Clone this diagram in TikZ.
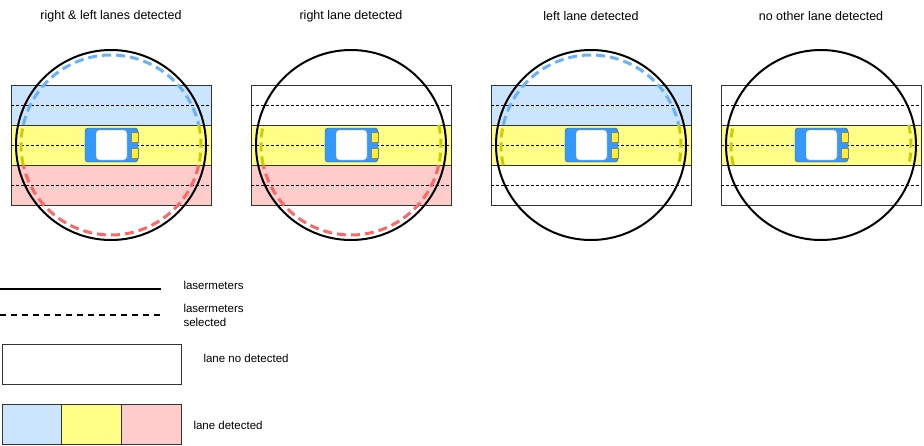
\documentclass[tikz,border=0pt]{standalone}
\usepackage{fontspec}
\setmainfont{Liberation Sans}
\begin{document}
\begin{tikzpicture}[x=1pt,y=-1pt,
  lane/.style={draw=black!80,line width=0.6pt},
  mid/.style={dashed,line width=0.6pt,dash pattern=on 3pt off 2pt},
  laser/.style={line width=2pt},
  det/.style={line width=3pt,dash pattern=on 9pt off 5pt},
  ttl/.style={font=\fontsize{12.5}{14}\selectfont},
  lg/.style={font=\fontsize{11.5}{14}\selectfont,anchor=west}]
\definecolor{lb}{HTML}{CCE5FF}\definecolor{ly}{HTML}{FFFF88}\definecolor{lr}{HTML}{FFCCCC}
\definecolor{db}{HTML}{66B2FF}\definecolor{dy}{HTML}{CCCC00}\definecolor{dr}{HTML}{FF6666}
\definecolor{car}{HTML}{3399FF}\definecolor{lt}{HTML}{FFEE33}
\useasboundingbox (0,0) rectangle (924,445);
\newcommand\lanepanel[6]{%
 \begin{scope}[xshift=#1]
  \fill[#2] (11,85) rectangle (211,125);
  \fill[ly] (11,125) rectangle (211,165);
  \fill[#3] (11,165) rectangle (211,205);
  \draw[lane] (11,85) rectangle (211,205);
  \draw[lane] (11,125) -- (211,125) (11,165) -- (211,165);
  \draw[mid] (11,105) -- (211,105) (11,145) -- (211,145) (11,185) -- (211,185);
  \draw[det,dy] (111,145) ++(-13:90) arc (-13:13:90);
  \draw[det,dy] (111,145) ++(167:90) arc (167:193:90);
  #5
  \draw[laser] (111,145) circle (95);
  \draw[fill=car,draw=black!70,rounded corners=3pt] (85,128) rectangle (138,162);
  \draw[fill=white,draw=black!50,rounded corners=3pt] (96,130) rectangle (127,160);
  \draw[fill=lt,draw=black!50,line width=0.3pt] (131,132) rectangle (138,142);
  \draw[fill=lt,draw=black!50,line width=0.3pt] (131,148) rectangle (138,158);
  \node[ttl] (t#6) at (111,16) {#4};
 \end{scope}}
\lanepanel{0}{lb}{lr}{right \& left lanes detected}{\draw[det,db] (111,145) ++(193:90) arc (193:347:90); \draw[det,dr] (111,145) ++(13:90) arc (13:167:90);}{a}
\lanepanel{240}{white}{lr}{right lane detected}{\draw[det,dr] (111,145) ++(13:90) arc (13:167:90);}{b}
\lanepanel{480}{lb}{white}{left lane detected}{\draw[det,db] (111,145) ++(193:90) arc (193:347:90);}{c}
\lanepanel{710}{white}{white}{no other lane detected}{}{d}
% legend
\coordinate (s1) at (0,289); \coordinate (s2) at (161,289);
\draw[laser,line width=1.8pt] (s1) -- (s2);
\coordinate (d1) at (0,315); \coordinate (d2) at (161,315);
\draw[line width=1.5pt,dash pattern=on 6pt off 5pt] (d1) -- (d2);
\node[lg] (l1) at (180,285) {lasermeters};
\node[lg,align=left] (l2) at (180,315) {lasermeters\\selected};
\draw[lane] (2,344) rectangle (181,384);
\node[lg] (l3) at (200,358) {lane no detected};
\draw[lane,fill=lb] (2,404) rectangle (61,444);
\draw[lane,fill=ly] (61,404) rectangle (121,444);
\draw[lane,fill=lr] (121,404) rectangle (181,444);
\node[lg] (l4) at (190,425) {lane detected};
\end{tikzpicture}
\end{document}
